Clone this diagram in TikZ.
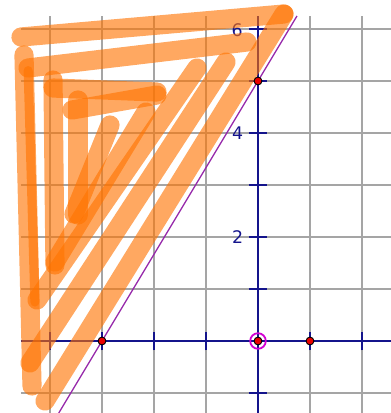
\documentclass[tikz,border=0pt]{standalone}
\usepackage{fontspec}
\setsansfont{DejaVu Sans}
\usetikzlibrary{calc}
\definecolor{gridgray}{RGB}{165,165,165}
\definecolor{axisnavy}{RGB}{20,20,140}
\definecolor{penorange}{RGB}{255,115,0}
\definecolor{linepurple}{RGB}{150,40,170}
\definecolor{ringmagenta}{RGB}{210,0,210}
\definecolor{ptred}{RGB}{235,0,0}

\begin{document}
\begin{tikzpicture}[x=1cm,y=1cm,
  penline/.style={penorange, line width=10.5pt, line cap=round, draw opacity=0.62},
  ticklabel/.style={text=axisnavy, font=\sffamily\fontsize{9.5}{10}\selectfont, inner sep=0pt}]
\useasboundingbox (-4.9615,-1.3846) rectangle (2.5577,6.5577);
% grid
\foreach \x in {-4,...,2}
  \draw[gridgray, line width=1.1pt] (\x,-1.3846)--(\x,6.25);
\foreach \y in {-1,...,6}
  \draw[gridgray, line width=1.1pt] (-4.558,\y)--(2.5577,\y);
% axes and ticks
\draw[axisnavy, line width=1.1pt] (-4.558,0)--(2.5577,0);
\draw[axisnavy, line width=1.1pt] (0,-1.3846)--(0,6.25);
\foreach \x in {-4,-3,-2,-1,1,2}
  \draw[axisnavy, line width=1pt] (\x,-0.18)--(\x,0.18);
\foreach \y in {-1,1,2,3,4,5,6}
  \draw[axisnavy, line width=1pt] (-0.18,\y)--(0.18,\y);
\node[ticklabel] (lab2) at (-0.39,2) {2};
\node[ticklabel] (lab4) at (-0.39,4) {4};
\node[ticklabel] (lab6) at (-0.40,5.98) {6};

% pen strokes
\foreach \a/\b in {
  {(-4.558,5.846)}/{(0.500,6.288)},
  {(-4.500,5.500)}/{(-4.346,-0.865)},
  {(-4.096,-1.154)}/{(0.500,6.288)},
  {(-4.423,5.250)}/{(-0.212,5.750)},
  {(-4.385,-0.423)}/{(-0.615,5.365)},
  {(-4.250,0.788)}/{(-1.173,5.250)},
  {(-3.942,5.019)}/{(-3.904,1.462)},
  {(-3.942,4.865)}/{(-1.942,4.788)},
  {(-3.462,4.635)}/{(-3.462,2.423)},
  {(-3.577,4.442)}/{(-1.942,4.731)},
  {(-2.154,4.404)}/{(-3.904,1.519)},
  {(-2.846,4.154)}/{(-3.538,2.442)}}
  \draw[penline] \a -- \b;
\draw[penline, line width=5pt] (-4.42,5.2) -- (-4.29,0.75);

% line through A and B
\coordinate (A) at (-3,0);
\coordinate (B) at (0,5);
\coordinate (O) at (0,0);
\coordinate (C) at (1,0);
\draw[linepurple, line width=0.7pt] ($(A)!-0.277!(B)$) -- ($(A)!1.25!(B)$);

% points
\draw[ringmagenta, line width=1pt] (O) circle (0.15);
\foreach \p in {A,B,O,C}
  \filldraw[fill=ptred, draw=black, line width=0.5pt] (\p) circle (0.075);
\end{tikzpicture}
\end{document}
